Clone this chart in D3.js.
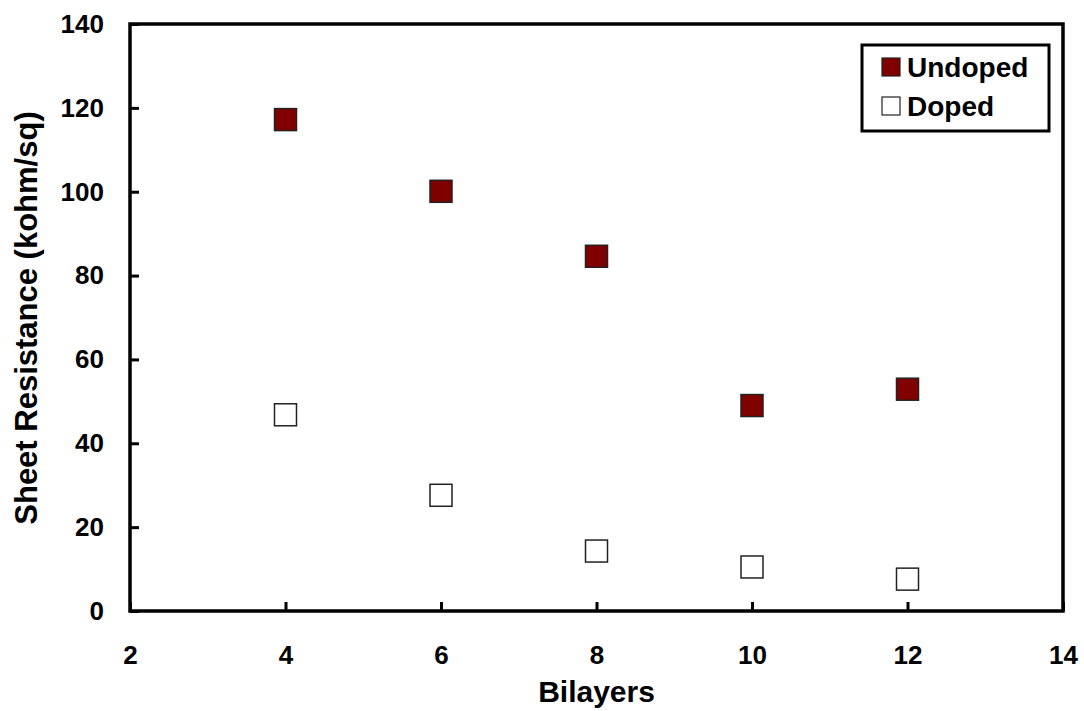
<!DOCTYPE html>
<html>
<head>
<meta charset="utf-8">
<script src="https://cdn.jsdelivr.net/npm/d3@7/dist/d3.min.js"></script>
<style>
  html, body { margin: 0; padding: 0; background: #fff; }
  svg { display: block; font-family: "Liberation Sans", Arial, sans-serif; font-weight: bold; }
</style>
</head>
<body>
<div id="chart"></div>
<script>
// data
const bilayers = [4, 6, 8, 10, 12];
const undoped = [117.2, 100.1, 84.6, 49.0, 52.9];
const doped = [46.8, 27.6, 14.3, 10.5, 7.6];
const xTicks = [2, 4, 6, 8, 10, 12, 14];
const yTicks = [0, 20, 40, 60, 80, 100, 120, 140];

const width = 1084, height = 711;
const mLeft = 130, mRight = 1063, mTop = 24, mBottom = 611;

const svg = d3.select('#chart').append('svg')
  .attr('width', width)
  .attr('height', height);

const x = d3.scaleLinear().domain([2, 14]).range([mLeft, mRight]);
const y = d3.scaleLinear().domain([0, 140]).range([mBottom, mTop]);

// inward ticks
svg.append('g')
  .attr('transform', `translate(0,${mBottom})`)
  .call(d3.axisBottom(x).tickValues(xTicks).tickSize(-9).tickPadding(35).tickFormat(d3.format('d')))
  .call(g => g.select('.domain').remove())
  .call(g => g.selectAll('line').attr('stroke', '#000').attr('stroke-width', 3))
  .call(g => g.selectAll('text').attr('font-size', 26).attr('font-weight', 'bold').attr('fill', '#000')
    .attr('font-family', '"Liberation Sans", Arial, sans-serif'));

svg.append('g')
  .attr('transform', `translate(${mLeft},0)`)
  .call(d3.axisLeft(y).tickValues(yTicks).tickSize(-9).tickPadding(26))
  .call(g => g.select('.domain').remove())
  .call(g => g.selectAll('line').attr('stroke', '#000').attr('stroke-width', 3))
  .call(g => g.selectAll('text').attr('font-size', 26).attr('font-weight', 'bold').attr('fill', '#000')
    .attr('font-family', '"Liberation Sans", Arial, sans-serif'));

// frame
svg.append('rect')
  .attr('x', mLeft).attr('y', mTop)
  .attr('width', mRight - mLeft).attr('height', mBottom - mTop)
  .attr('fill', 'none').attr('stroke', '#000').attr('stroke-width', 3.5);

// axis titles
svg.append('text')
  .attr('x', (mLeft + mRight) / 2).attr('y', 702)
  .attr('text-anchor', 'middle')
  .attr('font-size', 30)
  .text('Bilayers');

svg.append('text')
  .attr('transform', `translate(37,318) rotate(-90)`)
  .attr('text-anchor', 'middle')
  .attr('font-size', 31)
  .text('Sheet Resistance (kohm/sq)');

const sz = 22;
const pts = svg.append('g');
pts.selectAll('rect.doped')
  .data(bilayers.map((b, i) => [b, doped[i]]))
  .join('rect')
  .attr('class', 'doped')
  .attr('x', d => x(d[0]) - sz / 2).attr('y', d => y(d[1]) - sz / 2)
  .attr('width', sz).attr('height', sz)
  .attr('fill', '#fff').attr('stroke', '#222').attr('stroke-width', 1.5);

pts.selectAll('rect.undoped')
  .data(bilayers.map((b, i) => [b, undoped[i]]))
  .join('rect')
  .attr('class', 'undoped')
  .attr('x', d => x(d[0]) - sz / 2).attr('y', d => y(d[1]) - sz / 2)
  .attr('width', sz).attr('height', sz)
  .attr('fill', '#800000').attr('stroke', '#222').attr('stroke-width', 1.5);

// legend
const legend = svg.append('g');
legend.append('rect')
  .attr('x', 862).attr('y', 45).attr('width', 187).attr('height', 86)
  .attr('fill', '#fff').attr('stroke', '#000').attr('stroke-width', 3);

const items = [
  { name: 'Undoped', fill: '#800000' },
  { name: 'Doped', fill: '#fff' }
];
items.forEach((it, i) => {
  const cy = 67 + i * 39;
  legend.append('rect')
    .attr('x', 882).attr('y', cy - 9).attr('width', 18).attr('height', 18)
    .attr('fill', it.fill).attr('stroke', '#222').attr('stroke-width', 1.2);
  legend.append('text')
    .attr('x', 907).attr('y', cy + 10)
    .attr('font-size', 28)
    .text(it.name);
});
</script>
</body>
</html>
